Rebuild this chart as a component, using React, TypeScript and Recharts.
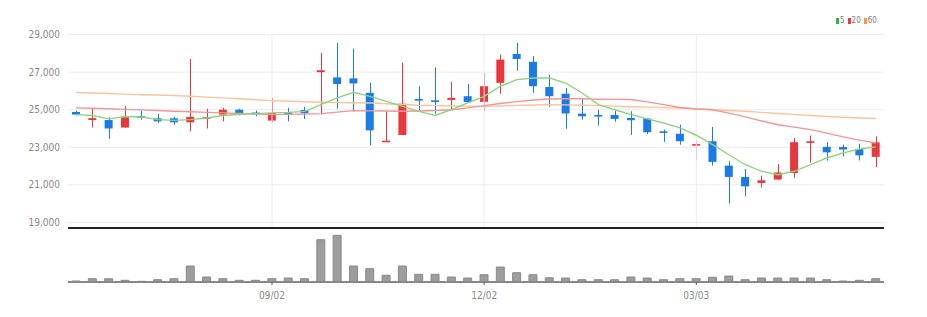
import { Bar, CartesianGrid, ComposedChart, Line, ReferenceLine, XAxis, YAxis } from "recharts";

const dates = [
  "06/10", "06/17", "06/24", "07/01", "07/08", "07/15", "07/22", "07/29", "08/05", "08/12",
  "08/19", "08/26", "09/02", "09/09", "09/16", "09/23", "09/30", "10/07", "10/14", "10/21",
  "10/28", "11/04", "11/11", "11/18", "11/25", "12/02", "12/09", "12/16", "12/23", "12/30",
  "01/06", "01/13", "01/20", "01/27", "02/03", "02/10", "02/17", "02/24", "03/03", "03/10",
  "03/17", "03/24", "03/31", "04/07", "04/14", "04/21", "04/28", "05/05", "05/12", "05/19",
];

const opens = [
  24880, 24450, 24450, 24050, 24650, 24540, 24540, 24330, 24530, 24740,
  25000, 24850, 24420, 24880, 24980, 27000, 26720, 26670, 25900, 23280,
  23650, 25570, 25500, 25520, 25720, 25420, 26430, 27970, 27550, 26210,
  25850, 24790, 24720, 24720, 24560, 24530, 23850, 23720, 23100, 23320,
  22020, 21420, 21100, 21280, 21630, 23230, 23020, 23010, 22910, 22490,
];
const closes = [
  24740, 24550, 24000, 24600, 24570, 24380, 24330, 24620, 24600, 25000,
  24740, 24750, 24830, 24780, 24820, 27100, 26370, 26400, 23900, 23350,
  25320, 25490, 25430, 25630, 25400, 26250, 27670, 27700, 26250, 25720,
  24800, 24650, 24660, 24510, 24440, 23800, 23770, 23320, 23170, 22220,
  21420, 20920, 21240, 21660, 23270, 23320, 22730, 22880, 22570, 23260,
];
const highs = [
  24950, 25050, 24600, 25200, 24950, 24780, 24620, 27700, 25050, 25100,
  25050, 24950, 25630, 25100, 25150, 28030, 28550, 28250, 26430, 24900,
  27500, 26250, 27260, 26480, 26370, 26960, 27940, 28550, 27850, 26870,
  26160, 25580, 25000, 24950, 24920, 24560, 23940, 24200, 23400, 24080,
  22250, 21850, 21490, 22110, 23500, 23620, 23270, 23140, 23180, 23580,
];
const lows = [
  24690, 24050, 23450, 24050, 24470, 24300, 24200, 23850, 24000, 24380,
  24700, 24650, 24330, 24380, 24500, 24750, 25050, 24900, 23100, 23280,
  23650, 24920, 24780, 24970, 25390, 24920, 25840, 27080, 25900, 25150,
  23980, 24470, 24150, 24360, 23660, 23700, 23290, 23140, 22340, 22020,
  20000, 20390, 20850, 21280, 21370, 22170, 22290, 22520, 22300, 21950,
];

const ma5 = [
  24740, 24690, 24510, 24640, 24610, 24470, 24430, 24470, 24560, 24690,
  24760, 24790, 24830, 24860, 24910, 25270, 25630, 25930, 25710, 25440,
  25180, 24910, 24690, 25000, 25360, 25710, 26250, 26600, 26690, 26690,
  26420, 25890, 25270, 25000, 24740, 24510, 24290, 24030, 23640, 23140,
  22600, 22070, 21720, 21540, 21720, 22070, 22430, 22700, 22910, 23020,
];
const ma20 = [
  25100, 25080, 25050, 25020, 24990, 24960, 24920, 24890, 24860, 24830,
  24800, 24770, 24740, 24750, 24770, 24790, 24870, 24950, 24940, 24930,
  24915, 24930, 24960, 25000, 25100, 25220, 25330, 25430, 25520, 25570,
  25580, 25580, 25560, 25550, 25540, 25420, 25270, 25120, 25040, 25000,
  24820, 24620, 24400, 24200, 24070, 23940, 23750, 23550, 23380, 23230,
];
const ma60 = [
  25920, 25890, 25860, 25830, 25800, 25780, 25750, 25715, 25670, 25630,
  25580, 25530, 25485, 25450, 25420, 25400, 25380, 25370, 25360, 25320,
  25280, 25240, 25220, 25200, 25190, 25180, 25200, 25230, 25250, 25270,
  25260, 25240, 25220, 25190, 25160, 25140, 25110, 25080, 25050, 25000,
  24960, 24920, 24860, 24800, 24750, 24690, 24640, 24600, 24560, 24530,
];

// volume, relative units
const volumes = [
  10, 33, 33, 17, 7, 23, 33, 160, 50, 33,
  17, 17, 33, 40, 33, 423, 467, 160, 133, 67,
  160, 77, 77, 50, 40, 73, 150, 93, 73, 43,
  40, 23, 23, 23, 50, 40, 23, 33, 33, 47,
  60, 23, 40, 40, 40, 40, 23, 10, 17, 33,
];

const priceTicks = [19000, 21000, 23000, 25000, 27000, 29000];
const labelDates = ["09/02", "12/02", "03/03"];

const RED = "#e8373d";
const BLUE = "#1b7be6";
const FONT = "'Liberation Sans Narrow', 'DejaVu Sans Condensed', sans-serif";

const rows = dates.map((date, i) => ({
  date,
  open: opens[i],
  close: closes[i],
  high: highs[i],
  low: lows[i],
  ma5: ma5[i],
  ma20: ma20[i],
  ma60: ma60[i],
  volume: volumes[i],
}));

const fmt = (v: number) => String(v).replace(/\B(?=(\d{3})+(?!\d))/g, ",");

function Candle(props: any) {
  const { x, y, width, height, payload } = props;
  const { open, close, high, low } = payload;
  const color = close >= open ? RED : BLUE;
  const range = high - low || 1;
  const py = (v: number) => y + ((high - v) / range) * height;
  const cx = Math.round(x + width / 2) + 0.5;
  const top = py(Math.max(open, close));
  const bot = py(Math.min(open, close));
  return (
    <g>
      <line x1={cx} x2={cx} y1={y} y2={y + height} stroke={color} strokeWidth={1} />
      <rect x={x} y={top} width={width} height={Math.max(bot - top, 1.6)} fill={color} />
    </g>
  );
}

function LegendBox() {
  const items = [
    { label: "5", color: "#2fb24a" },
    { label: "20", color: "#e8373d" },
    { label: "60", color: "#f29a48" },
  ];
  return (
    <div
      style={{
        position: "absolute",
        left: 836,
        top: 16,
        display: "flex",
        gap: 3,
        fontFamily: FONT,
        fontSize: 8,
        color: "#777",
        lineHeight: "10px",
      }}
    >
      {items.map((it) => (
        <span key={it.label} style={{ display: "flex", alignItems: "center", gap: 1 }}>
          <span style={{ width: 3, height: 6, background: it.color, display: "inline-block" }} />
          {it.label}
        </span>
      ))}
    </div>
  );
}

export default function App() {
  return (
    <div style={{ position: "absolute", left: 0, top: 0, width: 927, height: 317, background: "#fff" }}>
      <div style={{ position: "absolute", left: 0, top: 0 }}>
        <ComposedChart width={927} height={317} data={rows} margin={{ top: 34.6, right: 43, bottom: 89, left: 0 }}>
          <CartesianGrid vertical={false} stroke="#ececec" />
          <XAxis dataKey="date" hide />
          <YAxis
            domain={[18700, 29000]}
            ticks={priceTicks}
            width={68}
            tickLine={false}
            axisLine={false}
            tickMargin={2}
            tickFormatter={fmt}
            tick={{ fontSize: 10, fill: "#888", fontFamily: FONT }}
          />
          {labelDates.map((d) => (
            <ReferenceLine key={d} x={d} stroke="#ececec" />
          ))}
          <ReferenceLine y={18700} stroke="#222" strokeWidth={2} />
          <Line dataKey="ma60" stroke="#f7c49c" strokeWidth={1.4} dot={false} isAnimationActive={false} />
          <Line dataKey="ma20" stroke="#f29696" strokeWidth={1.4} dot={false} isAnimationActive={false} />
          <Line dataKey="ma5" stroke="#8ed47c" strokeWidth={1.4} dot={false} isAnimationActive={false} />
          <Bar
            dataKey={(d: any) => [d.low, d.high]}
            barSize={8}
            shape={<Candle />}
            isAnimationActive={false}
          />
        </ComposedChart>
      </div>
      <div style={{ position: "absolute", left: 0, top: 0 }}>
        <ComposedChart width={927} height={317} data={rows} margin={{ top: 230, right: 43, bottom: 0, left: 68 }}>
          <XAxis
            dataKey="date"
            ticks={labelDates}
            interval={0}
            height={35}
            axisLine={{ stroke: "#888", strokeWidth: 2 }}
            tickLine={{ stroke: "#555" }}
            tickSize={3}
            tickMargin={7}
            tick={{ fontSize: 10, fill: "#888", fontFamily: FONT }}
          />
          <YAxis hide domain={[0, 520]} />
          <Bar dataKey="volume" barSize={8} fill="#9d9d9d" stroke="#8a8a8a" isAnimationActive={false} />
        </ComposedChart>
      </div>
      <LegendBox />
    </div>
  );
}
